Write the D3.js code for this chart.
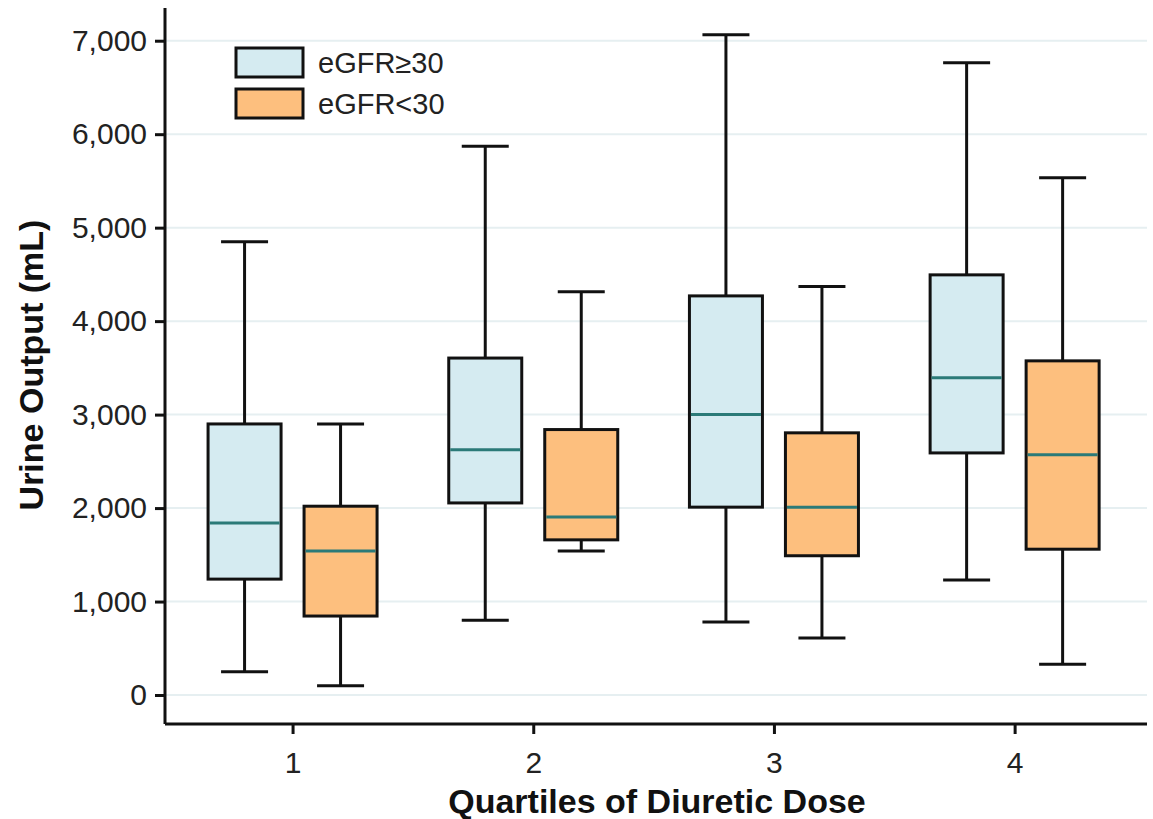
<!DOCTYPE html>
<html>
<head>
<meta charset="utf-8">
<script src="https://cdn.jsdelivr.net/npm/d3@7"></script>
<style>
  body { margin: 0; background: #fff; }
  svg text { font-family: "Liberation Sans", Arial, sans-serif; }
</style>
</head>
<body>
<div id="chart"></div>
<script>
// quartiles of diuretic dose
const quartiles = ["1", "2", "3", "4"];
const groups = ["eGFR≥30", "eGFR<30"];
const groupColors = ["#d5ebf1", "#fdbf7e"];

// [low whisker, Q1, median, Q3, high whisker] per quartile
const gfrHigh = [
  [250, 1240, 1840, 2900, 4850],
  [800, 2055, 2625, 3605, 5870],
  [780, 2010, 3000, 4270, 7065],
  [1230, 2590, 3395, 4495, 6765]
];
const gfrLow = [
  [100, 845, 1540, 2020, 2900],
  [1540, 1660, 1905, 2840, 4315],
  [610, 1490, 2010, 2805, 4370],
  [330, 1560, 2570, 3575, 5535]
];
const yTicks = [0, 1000, 2000, 3000, 4000, 5000, 6000, 7000];

const W = 1153, H = 819;
const margin = { top: 8, right: 6, bottom: 95, left: 165 };

const svg = d3.select("#chart").append("svg")
  .attr("width", W).attr("height", H);

const x = d3.scaleLinear().domain([0.47, 4.55]).range([margin.left, W - margin.right]);
const y = d3.scaleLinear().domain([-310, 7350]).range([H - margin.bottom, margin.top]);

// gridlines
svg.append("g").selectAll("line").data(yTicks).enter().append("line")
  .attr("x1", margin.left).attr("x2", W - margin.right)
  .attr("y1", d => y(d)).attr("y2", d => y(d))
  .attr("stroke", "#e6eff1").attr("stroke-width", 2);

const series = [gfrHigh, gfrLow];
const offset = 48, boxW = 73, capW = 47;

series.forEach((data, gi) => {
  const dx = gi === 0 ? -offset : offset;
  const g = svg.append("g");
  const box = g.selectAll("g").data(data).enter().append("g")
    .attr("transform", (d, i) => "translate(" + (x(i + 1) + dx) + ",0)");

  // whiskers
  box.append("line")
    .attr("x1", 0).attr("x2", 0)
    .attr("y1", d => y(d[0])).attr("y2", d => y(d[1]))
    .attr("stroke", "#111").attr("stroke-width", 3);
  box.append("line")
    .attr("x1", 0).attr("x2", 0)
    .attr("y1", d => y(d[3])).attr("y2", d => y(d[4]))
    .attr("stroke", "#111").attr("stroke-width", 3);
  // caps
  [0, 4].forEach(k => {
    box.append("line")
      .attr("x1", -capW / 2).attr("x2", capW / 2)
      .attr("y1", d => y(d[k])).attr("y2", d => y(d[k]))
      .attr("stroke", "#111").attr("stroke-width", 3);
  });
  // box
  box.append("rect")
    .attr("x", -boxW / 2).attr("width", boxW)
    .attr("y", d => y(d[3])).attr("height", d => y(d[1]) - y(d[3]))
    .attr("fill", groupColors[gi]).attr("stroke", "#111").attr("stroke-width", 3);
  // median
  box.append("line")
    .attr("x1", -boxW / 2 + 1.5).attr("x2", boxW / 2 - 1.5)
    .attr("y1", d => y(d[2])).attr("y2", d => y(d[2]))
    .attr("stroke", "#2b7a78").attr("stroke-width", 3);
});

// axes
const yAxis = svg.append("g")
  .attr("transform", "translate(" + margin.left + ",0)")
  .call(d3.axisLeft(y).tickValues(yTicks).tickSize(10).tickPadding(8).tickFormat(d3.format(",")));
yAxis.attr("font-size", null).attr("font-family", null);
yAxis.select(".domain").attr("d", "M0," + margin.top + "V" + (H - margin.bottom)).attr("stroke-width", 3).attr("stroke", "#111");
yAxis.selectAll(".tick line").attr("stroke-width", 3).attr("stroke", "#111");
yAxis.selectAll(".tick text").style("font-size", "30px").attr("fill", "#222");

const xAxis = svg.append("g")
  .attr("transform", "translate(0," + (H - margin.bottom) + ")")
  .call(d3.axisBottom(x).tickValues([1, 2, 3, 4]).tickSize(10).tickPadding(18).tickFormat((d, i) => quartiles[i]));
xAxis.attr("font-size", null).attr("font-family", null);
xAxis.select(".domain").attr("d", "M" + margin.left + ",0H" + (W - margin.right)).attr("stroke-width", 3).attr("stroke", "#111");
xAxis.selectAll(".tick line").attr("stroke-width", 3).attr("stroke", "#111");
xAxis.selectAll(".tick text").style("font-size", "30px").attr("fill", "#222");

// axis titles
svg.append("text")
  .attr("x", 657).attr("y", 813)
  .attr("text-anchor", "middle")
  .style("font-size", "34px").attr("font-weight", "bold").attr("fill", "#111")
  .text("Quartiles of Diuretic Dose");

svg.append("text")
  .attr("transform", "translate(43,365) rotate(-90)")
  .attr("text-anchor", "middle")
  .style("font-size", "34px").attr("font-weight", "bold").attr("fill", "#111")
  .text("Urine Output (mL)");

// legend
const legend = svg.append("g").attr("transform", "translate(236,48)");
groups.forEach((name, i) => {
  legend.append("rect")
    .attr("x", 0).attr("y", i * 41).attr("width", 67).attr("height", 29)
    .attr("fill", groupColors[i]).attr("stroke", "#111").attr("stroke-width", 3);
  legend.append("text")
    .attr("x", 82).attr("y", i * 41 + 25)
    .style("font-size", "29px").attr("fill", "#222")
    .text(name);
});
</script>
</body>
</html>
